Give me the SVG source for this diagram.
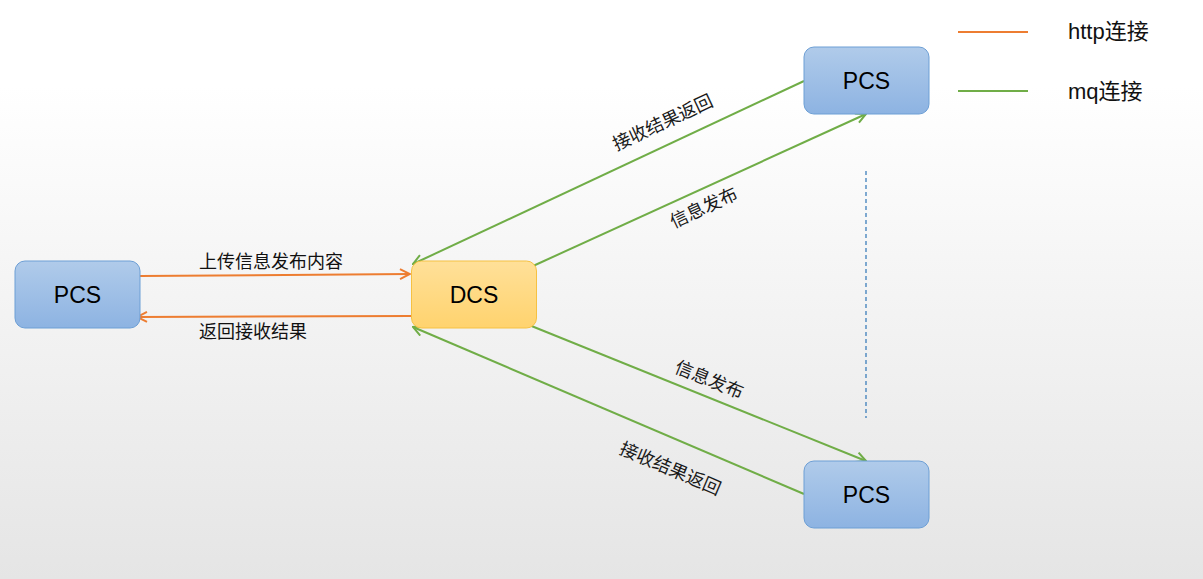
<svg xmlns="http://www.w3.org/2000/svg" width="1203" height="579" viewBox="0 0 1203 579">
<defs>
<linearGradient id="bg" x1="0" y1="0" x2="0" y2="1">
<stop offset="0" stop-color="#ffffff"/>
<stop offset="0.15" stop-color="#ffffff"/>
<stop offset="1" stop-color="#e5e5e5"/>
</linearGradient>
<linearGradient id="blue" x1="0" y1="0" x2="0" y2="1">
<stop offset="0" stop-color="#b0cbea"/>
<stop offset="1" stop-color="#8db3e2"/>
</linearGradient>
<linearGradient id="gold" x1="0" y1="0" x2="0" y2="1">
<stop offset="0" stop-color="#ffe099"/>
<stop offset="1" stop-color="#ffd36e"/>
</linearGradient>
<marker id="ao" viewBox="0 0 12 12" refX="11" refY="6" markerWidth="12" markerHeight="12" markerUnits="userSpaceOnUse" orient="auto">
<path d="M1,1 L11,6 L1,11" fill="none" stroke="#ed7d31" stroke-width="2"/>
</marker>
<marker id="ag" viewBox="0 0 12 12" refX="11" refY="6" markerWidth="12" markerHeight="12" markerUnits="userSpaceOnUse" orient="auto">
<path d="M1,1 L11,6 L1,11" fill="none" stroke="#70ad47" stroke-width="2"/>
</marker>
</defs>
<style>
.pcs{fill:url(#blue);stroke:#6d9fd5;stroke-width:1}
.dcs{fill:url(#gold);stroke:#f6c142;stroke-width:1}
.nt{font-family:"Liberation Sans","Noto Sans CJK SC",sans-serif;font-size:23px;fill:#000;text-anchor:middle;dominant-baseline:central}
.lb{font-family:"Noto Sans CJK SC","Liberation Sans",sans-serif;font-size:18px;fill:#1a1a1a;text-anchor:middle;dominant-baseline:central}
.lbs{font-family:"Noto Sans CJK SC","Liberation Sans",sans-serif;font-size:18px;fill:#111;dominant-baseline:central}
.lg{font-family:"Liberation Sans","Noto Sans CJK SC",sans-serif;font-size:22px;fill:#111;dominant-baseline:central}
.or{stroke:#ed7d31;stroke-width:2;fill:none}
.gr{stroke:#70ad47;stroke-width:2;fill:none}
</style>
<rect x="0" y="0" width="1203" height="579" fill="url(#bg)"/>
<g id="legend">
<line x1="958" y1="32" x2="1028" y2="32" class="or"/>
<text x="1068" y="31" class="lg">http连接</text>
<line x1="958" y1="91" x2="1028" y2="91" class="gr"/>
<text x="1068" y="91" class="lg">mq连接</text>
</g>
<g id="connectors">
<line x1="140" y1="276" x2="410" y2="274" class="or" marker-end="url(#ao)"/>
<line x1="411" y1="316" x2="137" y2="317" class="or" marker-end="url(#ao)"/>
<line x1="804" y1="81" x2="413" y2="264" class="gr" marker-end="url(#ag)"/>
<line x1="533" y1="266" x2="866" y2="114" class="gr" marker-end="url(#ag)"/>
<line x1="529" y1="325" x2="866" y2="461" class="gr" marker-end="url(#ag)"/>
<line x1="804" y1="494" x2="413" y2="327" class="gr" marker-end="url(#ag)"/>
<line x1="866" y1="171" x2="866" y2="418" stroke="#2e75b6" stroke-width="1.2" stroke-dasharray="4,3"/>
<text x="199" y="260" class="lbs">上传信息发布内容</text>
<text x="199" y="330" class="lbs">返回接收结果</text>
<text x="662" y="121" class="lb" transform="rotate(-25 662 121)">接收结果返回</text>
<text x="703" y="206" class="lb" transform="rotate(-25 703 206)">信息发布</text>
<text x="710" y="378" class="lb" transform="rotate(22 710 378)">信息发布</text>
<text x="671" y="467" class="lb" transform="rotate(23 671 467)">接收结果返回</text>
</g>
<g id="pcs-left">
<rect x="15" y="261" width="125" height="67" rx="10" class="pcs"/>
<text x="77.5" y="295" class="nt">PCS</text>
</g>
<g id="dcs">
<rect x="411.5" y="261" width="125" height="67" rx="10" class="dcs"/>
<text x="474" y="295" class="nt">DCS</text>
</g>
<g id="pcs-top">
<rect x="804" y="47" width="125" height="67" rx="10" class="pcs"/>
<text x="866.5" y="81" class="nt">PCS</text>
</g>
<g id="pcs-bottom">
<rect x="804" y="461" width="125" height="67" rx="10" class="pcs"/>
<text x="866.5" y="495" class="nt">PCS</text>
</g>
</svg>
